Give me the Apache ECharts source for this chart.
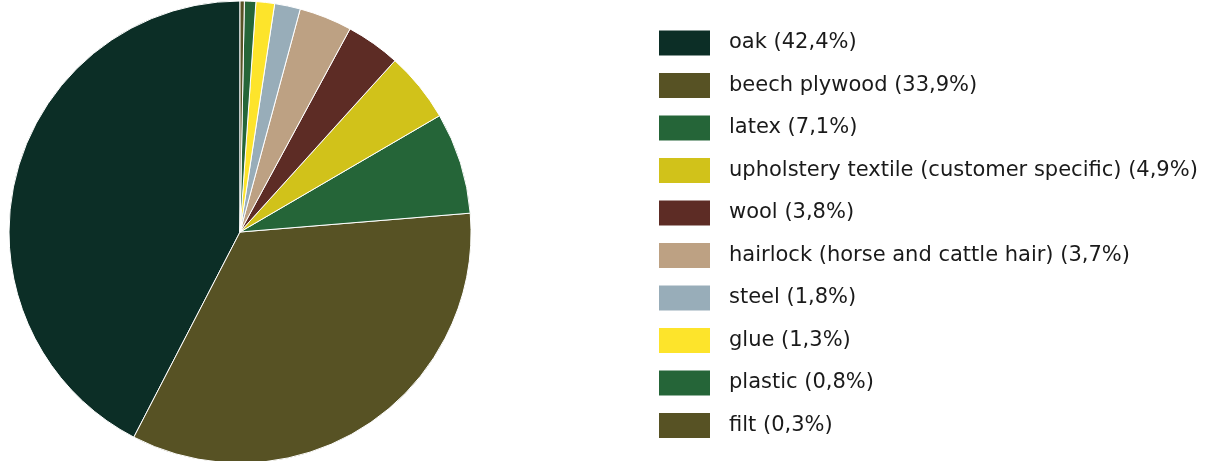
<!DOCTYPE html>
<html><head><meta charset="utf-8">
<script src="https://cdn.jsdelivr.net/npm/echarts@6/dist/echarts.min.js"></script>
<style>html,body{margin:0;padding:0;background:#fff}#c{width:1220px;height:461px}</style>
</head><body><div id="c"></div>
<script>
const categories = ["oak","beech plywood","latex","upholstery textile (customer specific)","wool","hairlock (horse and cattle hair)","steel","glue","plastic","filt"];
const values = [42.4,33.9,7.1,4.9,3.8,3.7,1.8,1.3,0.8,0.3];
const colors = ["#0c2e26","#575224","#256538","#d1c21a","#5d2c25","#bda183","#98adb9","#fde42b","#256538","#575224"];

const chart = echarts.init(document.getElementById('c'));
const data = categories.map((n,i)=>({name:n,value:values[i],itemStyle:{color:colors[i]}}));
chart.setOption({
  animation:false,
  legend:{
    orient:'vertical', left:657, top:28.5, height:440, padding:0,
    itemWidth:53, itemHeight:27, itemGap:13.5,
    icon:'rect',
    selectedMode:false,
    formatter:function(name){
      const i = categories.indexOf(name);
      return name + ' (' + values[i].toFixed(1).replace('.',',') + '%)';
    },
    textStyle:{fontFamily:'DejaVu Sans, sans-serif',fontSize:21,lineHeight:27,color:'#1a1a1a',padding:[0,0,0,13]}
  },
  series:[{
    type:'pie', center:[240,232], radius:[0,231],
    startAngle:90, clockwise:false,
    label:{show:false}, labelLine:{show:false},
    itemStyle:{borderColor:'#ffffff',borderWidth:1},
    emphasis:{disabled:true},
    data:data
  }]
});
</script></body></html>
